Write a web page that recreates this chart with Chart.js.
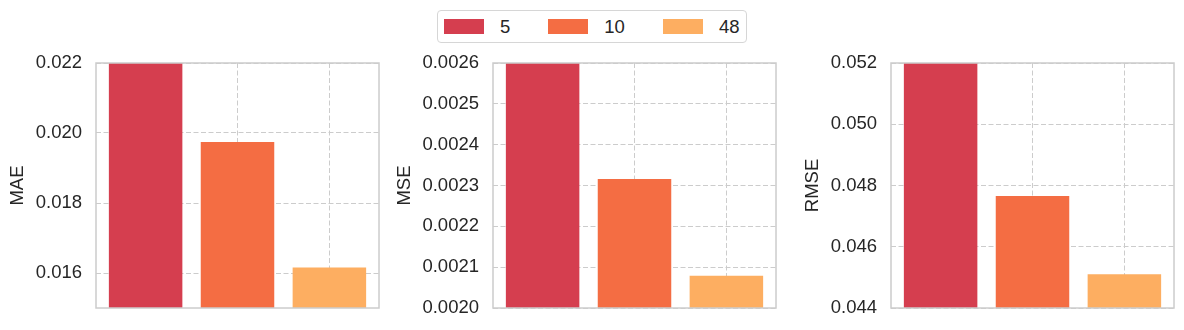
<!DOCTYPE html>
<html>
<head>
<meta charset="utf-8">
<script src="https://cdn.jsdelivr.net/npm/chart.js@4"></script>
<style>
  body { margin: 0; background: #fff; width: 1184px; height: 330px; position: relative; overflow: hidden;
         font-family: "Liberation Sans", Arial, sans-serif; color: #262626; }
  canvas { position: absolute; top: 0; }
  #legend { position: absolute; left: 437px; top: 10px; width: 310px; height: 33px; box-sizing: border-box;
            border: 1px solid #d6d6d6; border-radius: 4px; background: #fff;
            display: flex; align-items: center; padding-left: 6px; font-size: 18.5px; }
  .item { display: flex; align-items: center; margin-right: 38px; }
  .patch { width: 40px; height: 15px; margin-right: 16px; }
</style>
</head>
<body>
<canvas id="mae" width="381" height="330" style="left:0px"></canvas>
<canvas id="mse" width="388" height="330" style="left:390px"></canvas>
<canvas id="rmse" width="386" height="330" style="left:790px"></canvas>
<div id="legend"></div>
<script>
// horizons (legend) and bar colours
const horizons = ['5', '10', '48'];
const colors = ['#d53e4f', '#f46d43', '#fdae61'];

// values (first bar runs past the top of each axis)
const maeValues = [0.0225, 0.01974, 0.01616];
const mseValues = [0.00270, 0.002316, 0.002079];
const rmseValues = [0.0530, 0.04766, 0.04510];

// y ranges and tick steps
const maeRange = [0.015, 0.022], maeStep = 0.002;
const mseRange = [0.0020, 0.0026], mseStep = 0.0001;
const rmseRange = [0.044, 0.052], rmseStep = 0.002;

Chart.defaults.font.family = '"Liberation Sans", Arial, sans-serif';
Chart.defaults.font.size = 18.5;
Chart.defaults.color = '#262626';

const gridColor = '#cccccc';
const dash = [5, 2.5];

// frame round the plot area, like the seaborn spines
const framePlugin = {
  id: 'frame',
  afterDatasetsDraw(chart) {
    const a = chart.chartArea, ctx = chart.ctx;
    ctx.save();
    ctx.strokeStyle = '#cccccc';
    ctx.lineWidth = 1.5;
    ctx.strokeRect(a.left, a.top, a.right - a.left, a.bottom - a.top);
    ctx.restore();
  }
};

function makeChart(id, label, values, range, step, digits, axisWidth, titlePad) {
  return new Chart(document.getElementById(id), {
    type: 'bar',
    data: {
      datasets: horizons.map((h, i) => ({
        label: h,
        data: [{ x: i, y: values[i] }],
        backgroundColor: colors[i],
        barPercentage: 0.8,
        categoryPercentage: 1,
        grouped: false,
        clip: 0
      }))
    },
    options: {
      responsive: false,
      animation: false,
      layout: { padding: { top: 63, bottom: 22, left: 0, right: 2 } },
      plugins: { legend: { display: false }, tooltip: { enabled: false } },
      scales: {
        x: {
          type: 'linear',
          offset: false,
          min: -0.54,
          max: 2.54,
          ticks: { display: false, stepSize: 1, includeBounds: false },
          grid: { color: gridColor, lineWidth: 1, drawTicks: false, offset: false },
          border: { display: false, dash: dash },
          afterFit: s => { s.height = 0; }
        },
        y: {
          min: range[0],
          max: range[1],
          ticks: {
            stepSize: step,
            includeBounds: false,
            padding: 14,
            callback: v => v.toFixed(digits)
          },
          grid: { color: gridColor, lineWidth: 1, drawTicks: false },
          border: { display: false, dash: dash },
          title: { display: true, text: label, padding: { top: titlePad, bottom: 0 } },
          afterFit: s => { s.width = axisWidth; s.paddingTop = 0; s.paddingBottom = 0; }
        }
      }
    },
    plugins: [framePlugin]
  });
}

makeChart('mae', 'MAE', maeValues, maeRange, maeStep, 3, 96, 7);
makeChart('mse', 'MSE', mseValues, mseRange, mseStep, 4, 103, 4);
makeChart('rmse', 'RMSE', rmseValues, rmseRange, rmseStep, 3, 101, 12);

// legend shared by the three panels
const legend = document.getElementById('legend');
horizons.forEach((h, i) => {
  const item = document.createElement('div');
  item.className = 'item';
  const patch = document.createElement('span');
  patch.className = 'patch';
  patch.style.background = colors[i];
  const text = document.createElement('span');
  text.textContent = h;
  item.appendChild(patch);
  item.appendChild(text);
  legend.appendChild(item);
});
</script>
</body>
</html>
